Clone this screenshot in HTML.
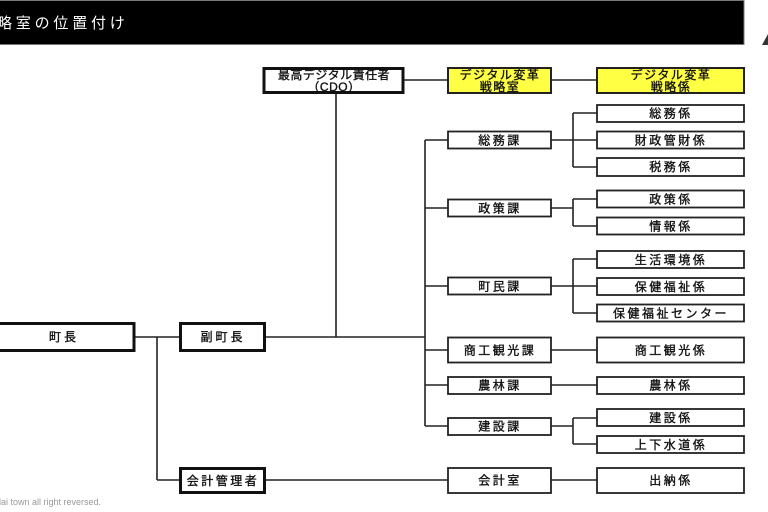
<!DOCTYPE html>
<html><head><meta charset="utf-8">
<style>
html,body{margin:0;padding:0;background:#fff;}
svg{display:block;}
text{font-family:"Liberation Sans","Noto Sans CJK JP",sans-serif;}
</style></head>
<body>
<svg width="768" height="512" viewBox="0 0 768 512" xmlns="http://www.w3.org/2000/svg">
<rect x="-2" y="0.5" width="746" height="44" fill="#000" stroke="#777" stroke-width="1"/>
<text x="-3" y="28" fill="#fff" font-size="15" letter-spacing="3.8">略室の位置付け</text>
<polygon points="762,45 768,34 768,45" fill="#333"/>

<g stroke="#222" stroke-width="1.6" fill="none">
<line x1="404" y1="80" x2="448" y2="80"/>
<line x1="551" y1="80" x2="597" y2="80"/>
<line x1="336" y1="93" x2="336" y2="337"/>
<line x1="135" y1="337" x2="179" y2="337"/>
<line x1="265" y1="337" x2="425" y2="337"/>
<line x1="157" y1="337" x2="157" y2="480"/>
<line x1="157" y1="480" x2="179" y2="480"/>
<line x1="265" y1="480" x2="448" y2="480"/>
<line x1="551" y1="480" x2="597" y2="480"/>
<line x1="425" y1="140" x2="425" y2="426"/>
<line x1="425" y1="140" x2="448" y2="140"/>
<line x1="425" y1="208" x2="448" y2="208"/>
<line x1="425" y1="286" x2="448" y2="286"/>
<line x1="425" y1="350" x2="448" y2="350"/>
<line x1="425" y1="385" x2="448" y2="385"/>
<line x1="425" y1="426" x2="448" y2="426"/>
<line x1="551" y1="140" x2="573" y2="140"/>
<line x1="573" y1="113" x2="573" y2="167"/>
<line x1="573" y1="113" x2="597" y2="113"/>
<line x1="573" y1="140" x2="597" y2="140"/>
<line x1="573" y1="167" x2="597" y2="167"/>
<line x1="551" y1="208" x2="573" y2="208"/>
<line x1="573" y1="199" x2="573" y2="226"/>
<line x1="573" y1="199" x2="597" y2="199"/>
<line x1="573" y1="226" x2="597" y2="226"/>
<line x1="551" y1="286" x2="573" y2="286"/>
<line x1="573" y1="259" x2="573" y2="313"/>
<line x1="573" y1="259" x2="597" y2="259"/>
<line x1="573" y1="286" x2="597" y2="286"/>
<line x1="573" y1="313" x2="597" y2="313"/>
<line x1="551" y1="350" x2="597" y2="350"/>
<line x1="551" y1="385" x2="597" y2="385"/>
<line x1="551" y1="426" x2="573" y2="426"/>
<line x1="573" y1="418" x2="573" y2="444"/>
<line x1="573" y1="418" x2="597" y2="418"/>
<line x1="573" y1="444" x2="597" y2="444"/>
</g>

<g stroke="#111" stroke-width="3" fill="#fff">
<rect x="264" y="68.5" width="139" height="24"/>
<rect x="-5" y="323.5" width="139" height="27"/>
<rect x="180.5" y="323.5" width="84" height="27"/>
<rect x="180.5" y="468.5" width="84" height="24"/>
</g>
<g stroke="#222" stroke-width="2" fill="#ffff44">
<rect x="448" y="68" width="103" height="25"/>
<rect x="597" y="68" width="147" height="25"/>
</g>
<g stroke="#222" stroke-width="1.8" fill="#fff">
<rect x="448" y="131.5" width="103" height="17"/>
<rect x="448" y="199.5" width="103" height="17"/>
<rect x="448" y="277.5" width="103" height="17"/>
<rect x="448" y="337.5" width="103" height="25"/>
<rect x="448" y="377" width="103" height="17"/>
<rect x="448" y="418" width="103" height="17"/>
<rect x="448" y="468" width="103" height="25"/>
<rect x="597" y="105" width="147" height="17"/>
<rect x="597" y="131.5" width="147" height="17"/>
<rect x="597" y="158" width="147" height="18"/>
<rect x="597" y="190.5" width="147" height="17"/>
<rect x="597" y="217.5" width="147" height="17"/>
<rect x="597" y="251" width="147" height="17"/>
<rect x="597" y="278" width="147" height="17"/>
<rect x="597" y="304.5" width="147" height="17"/>
<rect x="597" y="337.5" width="147" height="25"/>
<rect x="597" y="377" width="147" height="17"/>
<rect x="597" y="409" width="147" height="17"/>
<rect x="597" y="436" width="147" height="17"/>
<rect x="597" y="468" width="147" height="25"/>
</g>

<g fill="#111" stroke="#111" stroke-width="0.35" font-size="12" text-anchor="middle" letter-spacing="1.5">
<text x="334" y="79" letter-spacing="0.5">最高デジタル責任者</text>
<text x="334" y="91" letter-spacing="0.5">（CDO）</text>
<text x="500" y="79" letter-spacing="1.5">デジタル変革</text>
<text x="500" y="91">戦略室</text>
<text x="671" y="79" letter-spacing="1.5">デジタル変革</text>
<text x="671" y="91">戦略係</text>

<text x="64" y="341" letter-spacing="3">町長</text>
<text x="223" y="341" letter-spacing="3">副町長</text>
<text x="223" y="485" letter-spacing="2.5">会計管理者</text>

<text x="500" y="144.5" letter-spacing="2.5">総務課</text>
<text x="500" y="212.5" letter-spacing="2.5">政策課</text>
<text x="500" y="290.5" letter-spacing="2.5">町民課</text>
<text x="500" y="354.5" letter-spacing="2.5">商工観光課</text>
<text x="500" y="389.5" letter-spacing="2.5">農林課</text>
<text x="500" y="430.5" letter-spacing="2.5">建設課</text>
<text x="500" y="484.5" letter-spacing="2.5">会計室</text>

<text x="671" y="117.5" letter-spacing="2.5">総務係</text>
<text x="671" y="144.5" letter-spacing="2.5">財政管財係</text>
<text x="671" y="171" letter-spacing="2.5">税務係</text>
<text x="671" y="203.5" letter-spacing="2.5">政策係</text>
<text x="671" y="230.5" letter-spacing="2.5">情報係</text>
<text x="671" y="264" letter-spacing="2.5">生活環境係</text>
<text x="671" y="291" letter-spacing="2.5">保健福祉係</text>
<text x="671" y="317.5" letter-spacing="2.5">保健福祉センター</text>
<text x="671" y="354.5" letter-spacing="2.5">商工観光係</text>
<text x="671" y="389.5" letter-spacing="2.5">農林係</text>
<text x="671" y="422" letter-spacing="2.5">建設係</text>
<text x="671" y="449" letter-spacing="2.5">上下水道係</text>
<text x="671" y="484.5" letter-spacing="2.5">出納係</text>
</g>

<text x="-1" y="505" fill="#999" font-size="9">lai town all right reversed.</text>
</svg>
</body></html>
